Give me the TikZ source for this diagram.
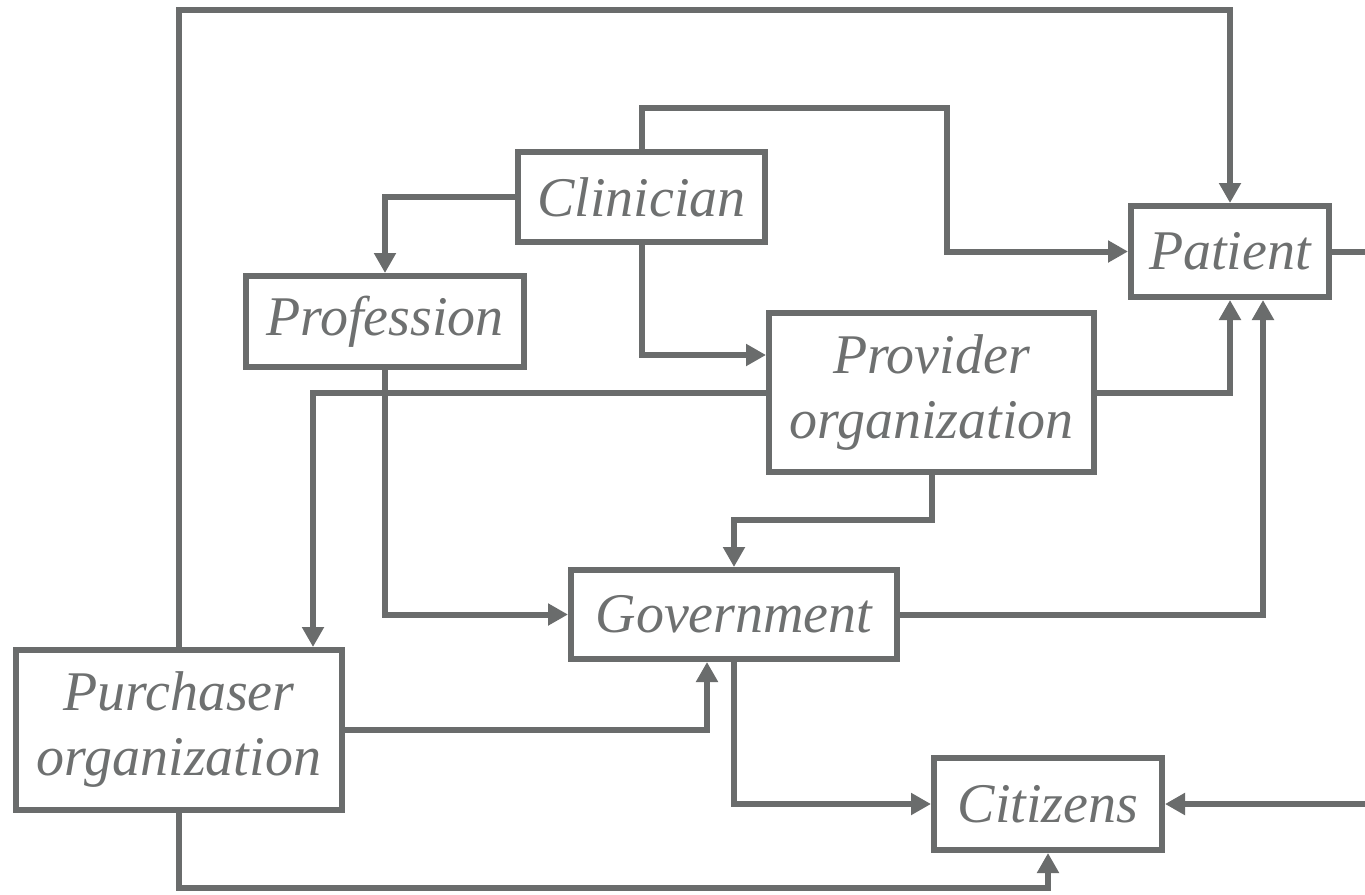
\documentclass[tikz,border=0pt]{standalone}
\usepackage{fontspec}
\setmainfont{Liberation Serif}
\usetikzlibrary{arrows.meta}
\definecolor{ink}{HTML}{6A6C6C}
\definecolor{txt}{HTML}{6E7070}
\begin{document}
\begin{tikzpicture}[x=1pt,y=-1pt,
  box/.style={draw=ink,line width=6pt,fill=white,inner sep=0pt,align=center,
    text=txt,font=\fontsize{56}{65}\selectfont\itshape},
  link/.style={draw=ink,line width=6pt},
  arr/.style={link,-{Triangle[width=21pt,length=20pt]}}]
\clip (0,0) rectangle (1365,894);
\fill[white] (0,0) rectangle (1365,894);

% boxes
\node[box,minimum width=247pt,minimum height=90pt]  (clin)  at (641.5,197)   {Clinician};
\node[box,minimum width=198pt,minimum height=91pt]  (pat)   at (1230,251.5)  {Patient};
\node[box,minimum width=278pt,minimum height=91pt]  (prof)  at (385,321.5)   {Profession};
\node[box,minimum width=325pt,minimum height=159pt] (prov)  at (931.5,392.5) {Provider\\organization};
\node[box,minimum width=326pt,minimum height=89pt]  (gov)   at (734,614.5)   {Government};
\node[box,minimum width=326pt,minimum height=160pt] (purch) at (179,730)     {Purchaser\\organization};
\node[box,minimum width=228pt,minimum height=92pt]  (cit)   at (1048,804)    {Citizens};

% routing points
\coordinate (r1)  at (700,10);
\coordinate (r2)  at (947,108);
\coordinate (r5)  at (1385,500);
\coordinate (r9)  at (800,520);
\coordinate (r13) at (600,888);

% connectors
\draw[arr] (purch.north) |- (r1) -| (pat.north);
\draw[arr] (clin.north) |- (r2) |- (pat.west);
\draw[arr] (clin.west) -| (prof.north);
\draw[arr] (clin.south) |- ([yshift=37.5pt]prov.west);
\draw[arr] (pat.east) -| (r5) |- (cit.east);
\draw[arr] (prov.west) -| ([xshift=134pt]purch.north);
\draw[arr] (prof.south) |- (gov.west);
\draw[arr] (prov.east) -| (pat.south);
\draw[arr] (prov.south) |- (r9) -| (gov.north);
\draw[arr] (gov.east) -| ([xshift=33pt]pat.south);
\draw[arr] (purch.east) -| ([xshift=-27pt]gov.south);
\draw[arr] (gov.south) |- (cit.west);
\draw[arr] (purch.south) |- (r13) -| (cit.south);
\end{tikzpicture}
\end{document}
